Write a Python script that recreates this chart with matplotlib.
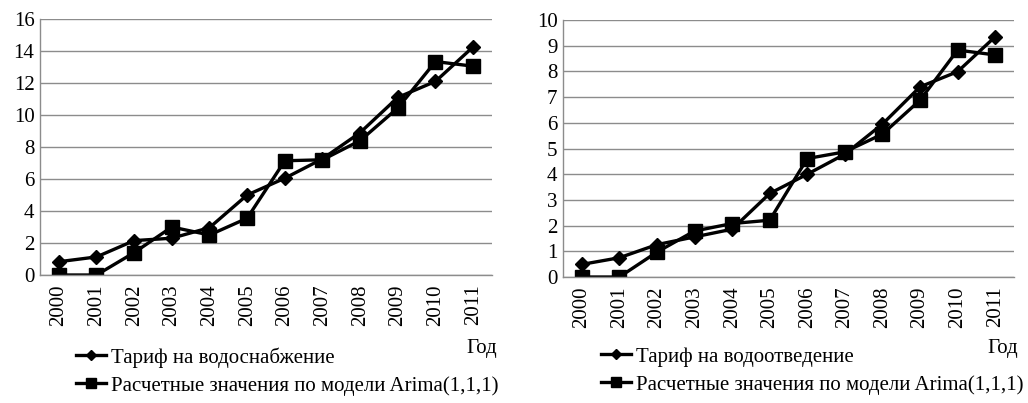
import matplotlib
matplotlib.use("Agg")
import matplotlib.pyplot as plt

plt.rcParams['font.family'] = ['Liberation Serif', 'DejaVu Serif']

# Données
annees = ['2000', '2001', '2002', '2003', '2004', '2005', '2006', '2007',
          '2008', '2009', '2010', '2011']

tarif_snab = [0.83, 1.13, 2.15, 2.3, 2.96, 5.0, 6.05, 7.26, 8.9, 11.1, 12.1, 14.26]
arima_snab = [0.0, 0.0, 1.4, 3.0, 2.5, 3.55, 7.14, 7.2, 8.4, 10.44, 13.34, 13.05]

tarif_otv = [0.49, 0.75, 1.26, 1.56, 1.86, 3.25, 4.0, 4.78, 5.95, 7.4, 7.99, 9.35]
arima_otv = [0.0, 0.0, 0.97, 1.79, 2.08, 2.21, 4.61, 4.87, 5.56, 6.88, 8.83, 8.64]

noms_tarif = ['Тариф на водоснабжение', 'Тариф на водоотведение']
nom_arima = 'Расчетные значения по модели Arima(1,1,1)'

fig = plt.figure(figsize=(10.28, 4.03), dpi=100)
gris = '#8c8c8c'


def tracer(ax, tarif, arima, ymax, pas, nom, leg_x, god_x):
    x = range(len(annees))
    l1, = ax.plot(x, tarif, color='black', lw=2.4, marker='D', markersize=7)
    l2, = ax.plot(x, arima, color='black', lw=2.4, marker='s', markersize=10)
    ax.set_xlim(-0.5, len(annees) - 0.5)
    ax.set_ylim(0, ymax)
    ax.set_yticks(range(0, ymax + 1, pas))
    ax.set_xticks(list(x))
    ax.set_xticklabels(annees, rotation=90, fontsize=15)
    ax.tick_params(axis='y', labelsize=15, length=0, pad=4)
    ax.tick_params(axis='x', length=0, pad=7)
    ax.grid(axis='y', color=gris, lw=1)
    ax.set_axisbelow(True)
    for s in ['top', 'right']:
        ax.spines[s].set_visible(False)
    for s in ['left', 'bottom']:
        ax.spines[s].set_color(gris)
        ax.spines[s].set_linewidth(1)
    fig.legend([l1, l2], [nom, nom_arima], loc='upper left',
               bbox_to_anchor=(leg_x, (403 - 347) / 403), frameon=False,
               fontsize=15, handlelength=1.45, handletextpad=0.25,
               labelspacing=0.4, markerscale=0.7, borderpad=0, borderaxespad=0)
    fig.text(god_x, 403 - 348, 'Год', fontsize=15, ha='right', va='center',
             transform=None)


ax1 = fig.add_axes([40 / 1028, (403 - 275) / 403, 452 / 1028, 256 / 403])
tracer(ax1, tarif_snab, arima_snab, 16, 2, noms_tarif[0], 76 / 1028, 497)

ax2 = fig.add_axes([563 / 1028, (403 - 277) / 403, 451 / 1028, 257 / 403])
tracer(ax2, tarif_otv, arima_otv, 10, 1, noms_tarif[1], 601 / 1028, 1018)

fig.savefig('out.png', dpi=100)
